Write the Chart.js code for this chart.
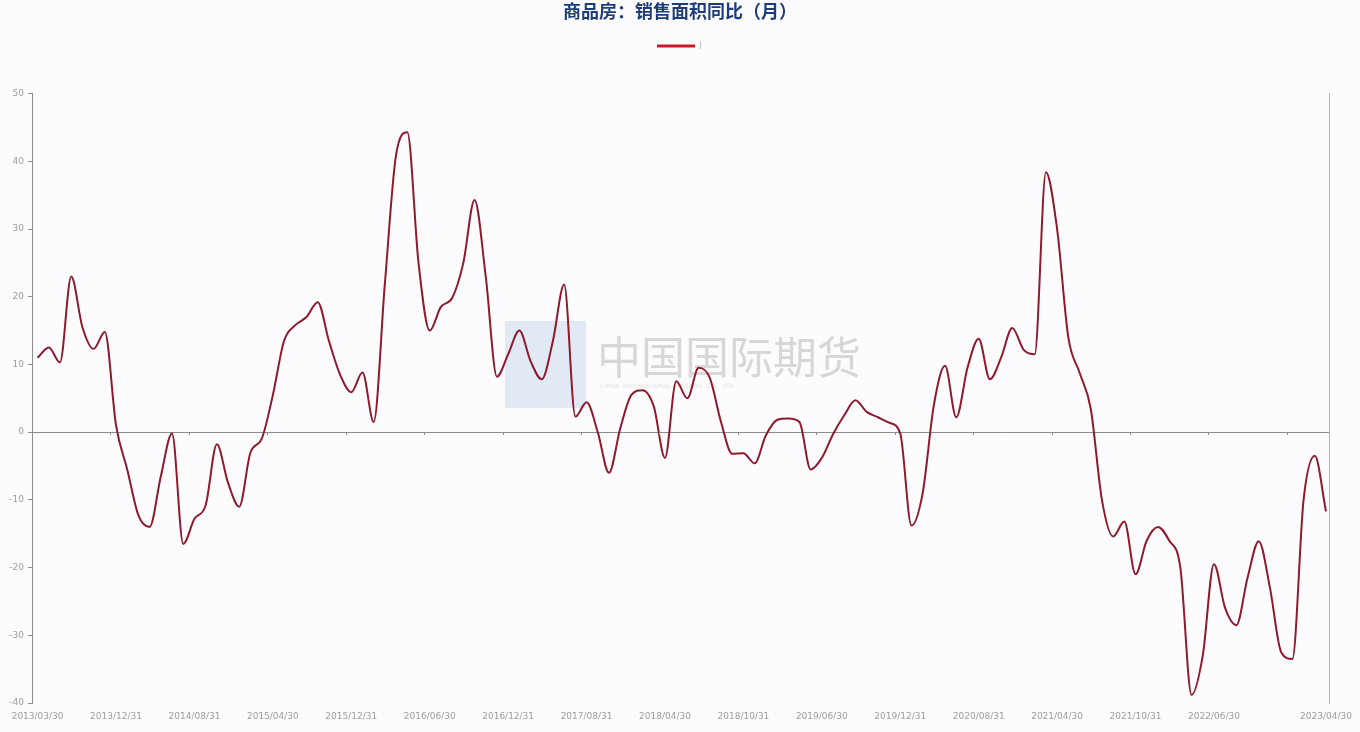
<!DOCTYPE html>
<html>
<head>
<meta charset="utf-8">
<script src="https://cdn.jsdelivr.net/npm/chart.js@4.4.1/dist/chart.umd.min.js"></script>
<style>
  html, body { margin: 0; padding: 0; background: #fcfcfe; }
  #wrap { width: 1360px; height: 732px; position: relative; }
</style>
</head>
<body>
<div id="wrap"><canvas id="chart"></canvas></div>
<script>
  var TITLE = '商品房：销售面积同比（月）';
  var SERIES_NAME = ')';

  // monthly YoY values
  var values = [
    11.0, 12.5, 10.3, 23.0, 15.5, 12.3, 14.8, 1.0, -5.5, -12.3,
    -14.0, -6.5, -0.2, -16.5, -12.8, -10.8, -1.8, -7.5, -11.0, -3.0,
    -1.0, 5.5, 13.5, 15.8, 17.0, 19.2, 13.5, 8.5, 5.9, 8.8,
    1.5, 22.0, 41.0, 44.3, 25.0, 15.0, 18.5, 19.8, 25.0, 34.3,
    23.0, 8.2, 11.5, 15.0, 10.5, 7.8, 13.5, 21.8, 2.3, 4.4,
    0.0, -6.0, 0.5, 5.5, 6.2, 3.8, -3.8, 7.5, 5.0, 9.5,
    8.0, 1.5, -3.2, -3.1, -4.6, -0.5, 1.8, 2.0, 1.5, -5.5,
    -3.8, -0.3, 2.5, 4.7, 3.0, 2.2, 1.4, -0.2, -13.8, -9.0,
    4.0, 9.8, 2.2, 9.5, 13.8, 7.8, 11.0, 15.4, 12.2, 11.5,
    38.4, 30.0, 14.0, 8.8, 3.5, -10.0, -15.4, -13.2, -21.0, -16.0,
    -14.0, -16.0, -20.0, -38.8, -33.0, -19.5, -26.0, -28.5, -21.5, -16.1,
    -23.0, -32.5, -33.5, -10.0, -3.5, -11.7
  ];

  // positions (point index) of the date labels on the x axis
  var tickIndex = [0, 7, 14, 21, 28, 35, 42, 49, 56, 63, 70, 77, 84, 91, 98, 105, 115];
  var tickLabels = [
    '2013/03/30', '2013/12/31', '2014/08/31', '2015/04/30', '2015/12/31', '2016/06/30',
    '2016/12/31', '2017/08/31', '2018/04/30', '2018/10/31', '2019/06/30', '2019/12/31',
    '2020/08/31', '2021/04/30', '2021/10/31', '2022/06/30', '2023/04/30'
  ];
  var yMin = -40, yMax = 50, yStep = 10;

  var axisGray = '#8c8c8c';
  var labelGray = '#9c9c9c';
  var lineColor = '#8e1a2c';
  var legendRed = '#c8182c';

  // faint company watermark behind the line
  var watermark = {
    id: 'watermark',
    beforeDatasetsDraw: function (chart) {
      var ctx = chart.ctx;
      ctx.save();
      ctx.fillStyle = 'rgba(185, 205, 232, 0.4)';
      ctx.fillRect(505, 321, 81, 87);
      ctx.fillStyle = 'rgba(165, 165, 165, 0.42)';
      ctx.font = '44px "Noto Sans CJK SC"';
      ctx.textBaseline = 'middle';
      ctx.fillText('中国国际期货', 597, 357);
      ctx.font = '6px "DejaVu Sans"';
      ctx.fillStyle = 'rgba(160, 160, 160, 0.3)';
      ctx.fillText('CHINA  INTERNATIONAL  FUTURES  CO.,  LTD.', 600, 386);
      ctx.restore();
    }
  };

  // small tick marks sitting on the zero line
  var zeroTicks = {
    id: 'zeroTicks',
    afterDraw: function (chart) {
      var x = chart.scales.x, y = chart.scales.y, ctx = chart.ctx;
      var y0 = y.getPixelForValue(0);
      ctx.save();
      ctx.strokeStyle = axisGray;
      ctx.lineWidth = 1;
      for (var v = 6.5; v < x.max; v += 7) {
        var px = Math.round(x.getPixelForValue(v)) + 0.5;
        ctx.beginPath();
        ctx.moveTo(px, y0);
        ctx.lineTo(px, y0 + 3);
        ctx.stroke();
      }
      ctx.restore();
    }
  };

  new Chart(document.getElementById('chart'), {
    type: 'line',
    data: {
      datasets: [{
        label: SERIES_NAME,
        data: values.map(function (v, i) { return { x: i, y: v }; }),
        borderColor: lineColor,
        backgroundColor: legendRed,
        borderWidth: 2,
        pointRadius: 0,
        fill: false,
        cubicInterpolationMode: 'monotone'
      }]
    },
    options: {
      responsive: true,
      maintainAspectRatio: false,
      animation: false,
      layout: { padding: { top: 0, right: 0, left: 0, bottom: 0 } },
      plugins: {
        title: {
          display: true,
          text: TITLE,
          color: '#1f3c7a',
          font: { family: '"Noto Sans CJK SC"', size: 18, weight: 'bold' },
          padding: { top: 0, bottom: 10 }
        },
        legend: {
          display: true,
          labels: {
            boxWidth: 36,
            boxHeight: 1,
            color: '#b0b0b0',
            font: { family: '"DejaVu Sans"', size: 9 },
            padding: 10,
            generateLabels: function (chart) {
              var items = Chart.defaults.plugins.legend.labels.generateLabels(chart);
              items.forEach(function (it) {
                it.strokeStyle = legendRed;
                it.fillStyle = legendRed;
              });
              return items;
            }
          }
        },
        // empty spacer between the legend and the plot
        subtitle: {
          display: true,
          text: '',
          weight: 500,
          font: { size: 10 },
          padding: { top: 10, bottom: 11 }
        },
        tooltip: { enabled: false }
      },
      scales: {
        x: {
          type: 'linear',
          min: -0.5,
          max: 115.35,
          afterBuildTicks: function (scale) {
            scale.ticks = tickIndex.map(function (v) { return { value: v }; });
          },
          afterFit: function (scale) { scale.height = 29; },
          ticks: {
            autoSkip: false,
            maxRotation: 0,
            color: labelGray,
            padding: 8,
            font: { family: '"DejaVu Sans"', size: 9 },
            callback: function (v) {
              var k = tickIndex.indexOf(v);
              return k < 0 ? '' : tickLabels[k];
            }
          },
          grid: { display: false, drawTicks: false },
          border: { display: false }
        },
        y: {
          position: 'left',
          min: yMin,
          max: yMax,
          afterFit: function (scale) { scale.width = 32; },
          ticks: {
            stepSize: yStep,
            color: labelGray,
            padding: 4,
            font: { family: '"DejaVu Sans"', size: 9 }
          },
          grid: {
            drawOnChartArea: true,
            color: function (c) { return c.tick && c.tick.value === 0 ? axisGray : 'rgba(0,0,0,0)'; },
            tickColor: axisGray,
            tickLength: 4,
            lineWidth: 1
          },
          border: { display: true, color: axisGray, width: 1 }
        },
        y1: {
          position: 'right',
          min: yMin,
          max: yMax,
          afterFit: function (scale) { scale.width = 27; },
          ticks: { display: false },
          grid: { display: true, drawOnChartArea: false, drawTicks: false },
          border: { display: true, color: '#b4b4b4', width: 1 }
        }
      }
    },
    plugins: [watermark, zeroTicks]
  });
</script>
</body>
</html>
